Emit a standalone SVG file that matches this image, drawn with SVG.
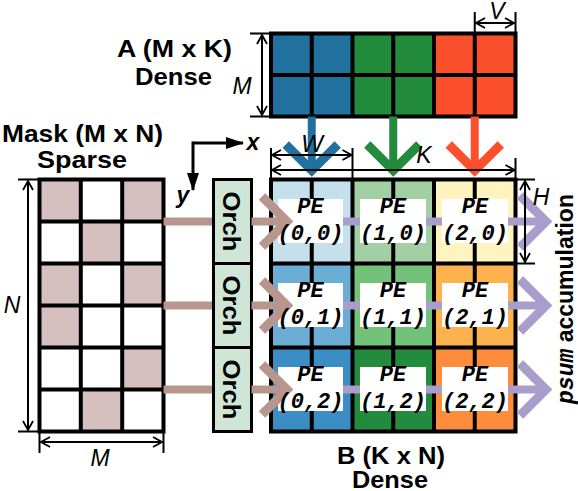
<svg xmlns="http://www.w3.org/2000/svg" width="578" height="491" viewBox="0 0 578 491">
<style>
.title{font-family:"Liberation Sans",Arial,sans-serif;font-weight:bold;font-size:24px;fill:#000;text-anchor:middle}
.dim{font-family:"Liberation Sans",Arial,sans-serif;font-style:italic;font-size:23px;fill:#000;text-anchor:middle}
.ax{font-family:"Liberation Sans",Arial,sans-serif;font-style:italic;font-weight:bold;font-size:23px;fill:#000;text-anchor:middle}
.pe{font-family:"Liberation Mono","Courier New",monospace;font-style:italic;font-weight:bold;font-size:22px;fill:#000;text-anchor:middle}
.grid{stroke:#000;stroke-width:4;fill:none}
.dl{stroke:#000;stroke-width:2;fill:none}
.brown{stroke:#b8968d;stroke-width:8;fill:none}
.purple{stroke:#a89dcb;stroke-width:8;fill:none}
.chev{stroke-width:9;fill:none;stroke-linejoin:miter}
.box{fill:#fff}
.orch{fill:#cfe5d5;stroke:#000;stroke-width:3}
</style>
<defs>
<marker id="ah" viewBox="0 0 12 12" refX="11" refY="6" markerWidth="12" markerHeight="12" markerUnits="userSpaceOnUse" orient="auto-start-reverse">
<path d="M2,1 L11,6 L2,11" fill="none" stroke="#000" stroke-width="1.8"/>
</marker>
<marker id="tri" viewBox="0 0 18 12" refX="17" refY="6" markerWidth="18" markerHeight="12" markerUnits="userSpaceOnUse" orient="auto">
<path d="M0,0 L18,6 L0,12 z" fill="#000"/>
</marker>
</defs>

<g id="matrixA">
<rect x="271" y="33.5" width="81.5" height="83" fill="#21719f"/>
<rect x="352.5" y="33.5" width="81.5" height="83" fill="#228b3c"/>
<rect x="434" y="33.5" width="81.5" height="83" fill="#fc4f2c"/>
<path class="grid" d="M311.75,33.5V116.5M352.5,33.5V116.5M393.25,33.5V116.5M434,33.5V116.5M474.75,33.5V116.5M271,75H515.5"/>
<rect class="grid" x="271" y="33.5" width="244.5" height="83"/>
<text class="title" x="174.5" y="57" textLength="115" lengthAdjust="spacingAndGlyphs">A (M x K)</text>
<text class="title" x="173.5" y="85" textLength="77" lengthAdjust="spacingAndGlyphs">Dense</text>
</g>

<g id="dimA">
<path class="dl" d="M250,33.5H270M250,116.5H270"/>
<line class="dl" x1="262" y1="35" x2="262" y2="115" marker-start="url(#ah)" marker-end="url(#ah)"/>
<text class="dim" x="242" y="94">M</text>
<path class="dl" d="M474.75,12V33M515.5,12V33"/>
<line class="dl" x1="476" y1="23" x2="514" y2="23" marker-start="url(#ah)" marker-end="url(#ah)"/>
<text class="dim" x="497" y="19" font-size="22">V</text>
</g>

<g id="mask">
<rect x="39.5" y="179.5" width="124" height="252" fill="#fff"/>
<g fill="#d6c0bf">
<rect x="39.5" y="179.5" width="41.3" height="42"/>
<rect x="122.2" y="179.5" width="41.3" height="42"/>
<rect x="80.8" y="221.5" width="41.4" height="42"/>
<rect x="39.5" y="263.5" width="41.3" height="42"/>
<rect x="122.2" y="263.5" width="41.3" height="42"/>
<rect x="39.5" y="305.5" width="41.3" height="42"/>
<rect x="122.2" y="347.5" width="41.3" height="42"/>
<rect x="80.8" y="389.5" width="41.4" height="42"/>
</g>
<path class="grid" d="M80.8,179.5V431.5M122.2,179.5V431.5M39.5,221.5H163.5M39.5,263.5H163.5M39.5,305.5H163.5M39.5,347.5H163.5M39.5,389.5H163.5"/>
<rect class="grid" x="39.5" y="179.5" width="124" height="252"/>
<text class="title" x="82.5" y="142" textLength="161" lengthAdjust="spacingAndGlyphs">Mask (M x N)</text>
<text class="title" x="82" y="168" textLength="90" lengthAdjust="spacingAndGlyphs">Sparse</text>
</g>

<g id="dimMask">
<path class="dl" d="M18,179.5H39M18,431.5H39"/>
<line class="dl" x1="28" y1="181" x2="28" y2="430" marker-start="url(#ah)" marker-end="url(#ah)"/>
<text class="dim" x="12" y="313">N</text>
<path class="dl" d="M39.5,432V453M163.5,432V453"/>
<line class="dl" x1="41" y1="442" x2="162" y2="442" marker-start="url(#ah)" marker-end="url(#ah)"/>
<text class="dim" x="100" y="466">M</text>
</g>

<g id="axes">
<line x1="193" y1="143" x2="243" y2="143" stroke="#000" stroke-width="3" marker-end="url(#tri)"/>
<line x1="193" y1="141.5" x2="193" y2="190" stroke="#000" stroke-width="3" marker-end="url(#tri)"/>
<text class="ax" x="253" y="150">x</text>
<text class="ax" x="183" y="203">y</text>
</g>

<g id="connectors">
<path class="brown" d="M163.5,221.5H213.5M163.5,305.5H213.5M163.5,389.5H213.5"/>
<path fill="none" stroke="#21719f" stroke-width="8" d="M311.75,116.5V170"/>
<path fill="none" stroke="#228b3c" stroke-width="8" d="M393.25,116.5V170"/>
<path fill="none" stroke="#fc4f2c" stroke-width="8" d="M474.75,116.5V170"/>
</g>

<g id="matrixB">
<rect x="271" y="179.5" width="81.5" height="84" fill="#c5dfec"/>
<rect x="352.5" y="179.5" width="81.5" height="84" fill="#a2d0a4"/>
<rect x="434" y="179.5" width="81.5" height="84" fill="#fff3bf"/>
<rect x="271" y="263.5" width="81.5" height="84" fill="#6aaed5"/>
<rect x="352.5" y="263.5" width="81.5" height="84" fill="#72c27a"/>
<rect x="434" y="263.5" width="81.5" height="84" fill="#fdb24e"/>
<rect x="271" y="347.5" width="81.5" height="84" fill="#3b8ec3"/>
<rect x="352.5" y="347.5" width="81.5" height="84" fill="#238b3e"/>
<rect x="434" y="347.5" width="81.5" height="84" fill="#fd8c3c"/>
<path class="grid" d="M311.75,179.5V431.5M352.5,179.5V431.5M393.25,179.5V431.5M434,179.5V431.5M474.75,179.5V431.5M271,263.5H515.5M271,347.5H515.5"/>
<rect class="grid" x="271" y="179.5" width="244.5" height="252"/>
<text class="title" x="391" y="464" textLength="108" lengthAdjust="spacingAndGlyphs">B (K x N)</text>
<text class="title" x="390" y="488" font-size="23" textLength="76" lengthAdjust="spacingAndGlyphs">Dense</text>
</g>

<g id="orch0"><rect class="orch" x="213.5" y="179.5" width="38" height="84"/><text class="title" transform="translate(223,221.5) rotate(90)" textLength="60" lengthAdjust="spacingAndGlyphs">Orch</text></g>
<g id="orch1"><rect class="orch" x="213.5" y="263.5" width="38" height="84"/><text class="title" transform="translate(223,305.5) rotate(90)" textLength="60" lengthAdjust="spacingAndGlyphs">Orch</text></g>
<g id="orch2"><rect class="orch" x="213.5" y="347.5" width="38" height="84"/><text class="title" transform="translate(223,389.5) rotate(90)" textLength="60" lengthAdjust="spacingAndGlyphs">Orch</text></g>

<g id="links">
<path class="purple" d="M343,221.5H360M426,221.5H442M343,305.5H360M426,305.5H442M343,389.5H360M426,389.5H442"/>
</g>

<g id="pe00"><rect class="box" x="278" y="199" width="65" height="44"/></g>
<g id="pe10"><rect class="box" x="360" y="199" width="66" height="44"/></g>
<g id="pe20"><rect class="box" x="442" y="199" width="66" height="44"/></g>
<g id="pe01"><rect class="box" x="278" y="283" width="65" height="44"/></g>
<g id="pe11"><rect class="box" x="360" y="283" width="66" height="44"/></g>
<g id="pe21"><rect class="box" x="442" y="283" width="66" height="44"/></g>
<g id="pe02"><rect class="box" x="278" y="367" width="65" height="44"/></g>
<g id="pe12"><rect class="box" x="360" y="367" width="66" height="44"/></g>
<g id="pe22"><rect class="box" x="442" y="367" width="66" height="44"/></g>

<g id="arrows">
<path class="brown" d="M251.5,221.5H285M251.5,305.5H285M251.5,389.5H285"/>
<path class="chev" stroke="#b8968d" d="M262,196.5L287,221.5L262,246.5M262,280.5L287,305.5L262,330.5M262,364.5L287,389.5L262,414.5"/>
<path class="purple" d="M508,221.5H543M508,305.5H543M508,389.5H543"/>
<path class="chev" stroke="#a89dcb" d="M520,195.5L546,221.5L520,247.5M520,279.5L546,305.5L520,331.5M520,363.5L546,389.5L520,415.5"/>
<path class="chev" stroke="#21719f" d="M285.75,144.5L311.75,170.5L337.75,144.5"/>
<path class="chev" stroke="#228b3c" d="M367.25,144.5L393.25,170.5L419.25,144.5"/>
<path class="chev" stroke="#fc4f2c" d="M448.75,144.5L474.75,170.5L500.75,144.5"/>
</g>

<g id="peLabels">
<text class="pe" x="310.5" y="213">PE</text><text class="pe" x="310.5" y="240">(0,0)</text>
<text class="pe" x="393" y="213">PE</text><text class="pe" x="393" y="240">(1,0)</text>
<text class="pe" x="475" y="213">PE</text><text class="pe" x="475" y="240">(2,0)</text>
<text class="pe" x="310.5" y="297">PE</text><text class="pe" x="310.5" y="324">(0,1)</text>
<text class="pe" x="393" y="297">PE</text><text class="pe" x="393" y="324">(1,1)</text>
<text class="pe" x="475" y="297">PE</text><text class="pe" x="475" y="324">(2,1)</text>
<text class="pe" x="310.5" y="381">PE</text><text class="pe" x="310.5" y="408">(0,2)</text>
<text class="pe" x="393" y="381">PE</text><text class="pe" x="393" y="408">(1,2)</text>
<text class="pe" x="475" y="381">PE</text><text class="pe" x="475" y="408">(2,2)</text>
</g>

<g id="dimB">
<path class="dl" d="M271,148V179M352.5,148V179M515.5,158V179"/>
<line class="dl" x1="272" y1="155" x2="351.5" y2="155" marker-start="url(#ah)" marker-end="url(#ah)"/>
<line class="dl" x1="272" y1="170" x2="514.5" y2="170" marker-start="url(#ah)" marker-end="url(#ah)"/>
<text class="dim" x="312" y="152">W</text>
<text class="dim" x="424" y="163">K</text>
<path class="dl" d="M517,179.5H535M517,263.5H535"/>
<line class="dl" x1="525" y1="181" x2="525" y2="262" marker-start="url(#ah)" marker-end="url(#ah)"/>
<text class="dim" x="541" y="205">H</text>
</g>

<g id="psum">
<text transform="translate(573,299) rotate(-90)" text-anchor="middle" font-family="Liberation Sans, Arial, sans-serif" font-weight="bold" font-size="23"><tspan font-family="Liberation Mono, Courier New, monospace" font-style="italic">psum</tspan> accumulation</text>
</g>
</svg>
